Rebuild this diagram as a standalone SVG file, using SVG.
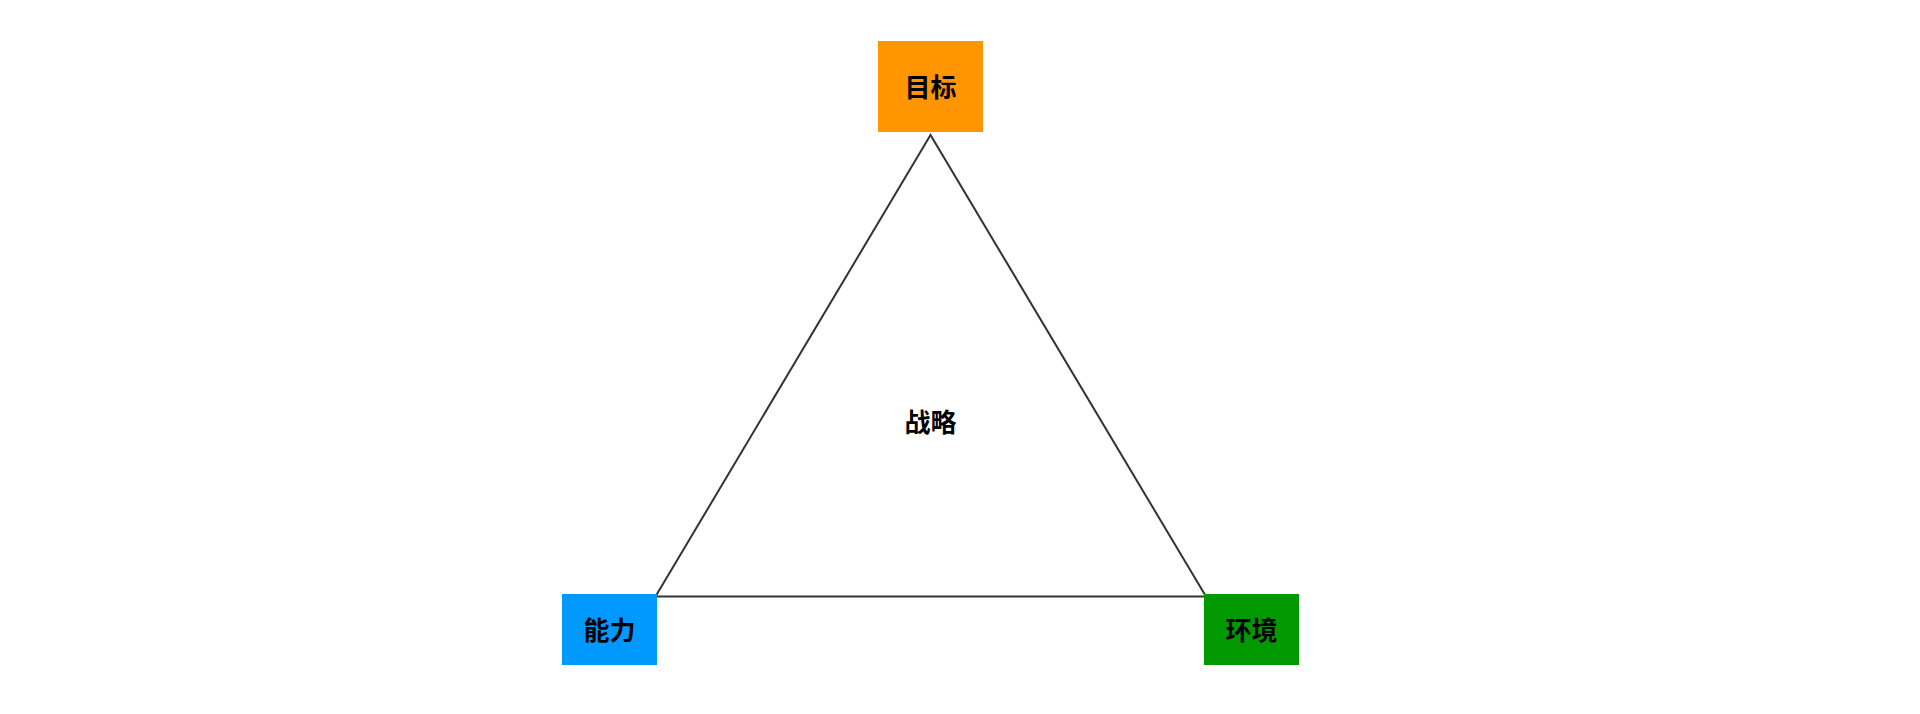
<svg xmlns="http://www.w3.org/2000/svg" width="1920" height="714" viewBox="0 0 1920 714">
<style>
.lbl{font-family:"Noto Sans CJK SC","Liberation Sans",sans-serif;font-size:26px;font-weight:bold;fill:#000;text-anchor:middle;dominant-baseline:central}
.edge{stroke:#333;stroke-width:2;fill:none}
</style>
<rect width="1920" height="714" fill="#fff"/>
<g id="connectors">
<polygon class="edge" points="930.5,135 655.5,596.5 1206,596.5"/>
</g>
<g id="center">
<text class="lbl" x="930.5" y="420">战略</text>
</g>
<g id="goal">
<rect x="878" y="41" width="105" height="91" fill="#ff9500"/>
<text class="lbl" x="930.5" y="85.5">目标</text>
</g>
<g id="ability">
<rect x="562" y="594" width="95" height="71" fill="#0099ff"/>
<text class="lbl" x="609.5" y="628.5">能力</text>
</g>
<g id="environment">
<rect x="1204" y="594" width="95" height="71" fill="#009900"/>
<text class="lbl" x="1251.5" y="628.5">环境</text>
</g>
</svg>
